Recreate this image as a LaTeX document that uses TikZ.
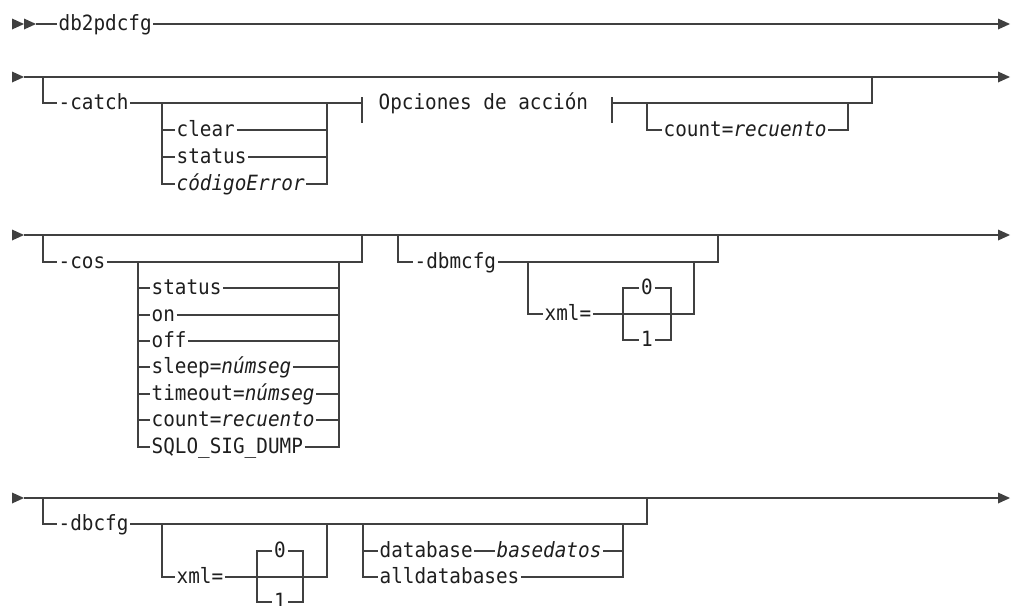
\documentclass[tikz,border=0pt]{standalone}
\usepackage{fontspec}
\newfontfamily\rrfont[FakeStretch=0.92]{DejaVu Sans Mono}
\definecolor{linec}{HTML}{404040}
\definecolor{textc}{HTML}{1E1E1E}
\tikzset{
  rr/.style={draw=linec, line width=1.4pt},
  kw/.style={inner xsep=1.5pt, inner ysep=0pt, text height=13pt, text depth=0pt, anchor=west,
    font=\rrfont\fontsize{21}{25}\selectfont, text=textc},
  kwc/.style={kw, anchor=center},
  tri/.style={fill=linec}
}
\newcommand\rrtri[2]{\fill[tri] (#1,#2-5.5) -- (#1+12,#2) -- (#1,#2+5.5) -- cycle;}
\begin{document}
\begin{tikzpicture}[x=1pt,y=-1pt]
\useasboundingbox (0,0) rectangle (1011,605);
\clip (0,0) rectangle (1011,605);
% ---------------- row 1
\rrtri{12}{24}\rrtri{24}{24}
\node[kw] (db) at (57,24) {db2pdcfg};
\draw[rr] (36,24) -- (db.west);
\draw[rr] (db.east) -- (1000,24);
\rrtri{998}{24}
% ---------------- row 2
\rrtri{12}{77}
\draw[rr] (24,77) -- (1000,77);
\rrtri{998}{77}
\node[kw] (catch) at (57,103) {-catch};
\draw[rr] (43,77) |- (catch.west);
\draw[rr] (catch.east) -- (362,103);
\node[kw] (clear) at (175,130) {clear};
\node[kw] (cstatus) at (175,157) {status};
\node[kw] (cerr) at (175,184) {\itshape códigoError};
\draw[rr] (162,103) |- (cerr.west);
\draw[rr] (162,130) -- (clear.west);
\draw[rr] (162,157) -- (cstatus.west);
\draw[rr] (clear.east) -- (327,130);
\draw[rr] (cstatus.east) -- (327,157);
\draw[rr] (cerr.east) -| (327,103);
\draw[rr] (362,97) -- (362,123);
\node[kw] (opc) at (377,103) {Opciones de acción};
\draw[rr] (612,97) -- (612,123);
\draw[rr] (612,103) -- (872,103) -- (872,77);
\node[kw] (ccount) at (662,130) {count=\textit{recuento}};
\draw[rr] (647,103) |- (ccount.west);
\draw[rr] (ccount.east) -| (848,103);
% ---------------- row 3
\rrtri{12}{235}
\draw[rr] (24,235) -- (1000,235);
\rrtri{998}{235}
\node[kw] (cos) at (57,262) {-cos};
\draw[rr] (43,235) |- (cos.west);
\draw[rr] (cos.east) -- (362,262) -- (362,235);
\node[kw] (s1) at (150,288) {status};
\node[kw] (s2) at (150,315) {on};
\node[kw] (s3) at (150,341) {off};
\node[kw] (s4) at (150,367) {sleep=\textit{númseg}};
\node[kw] (s5) at (150,394) {timeout=\textit{númseg}};
\node[kw] (s6) at (150,420) {count=\textit{recuento}};
\node[kw] (s7) at (150,447) {SQLO\_SIG\_DUMP};
\draw[rr] (138,262) |- (s7.west);
\foreach \n/\y in {s1/288,s2/315,s3/341,s4/367,s5/394,s6/420}{
  \draw[rr] (138,\y) -- (\n.west);
  \draw[rr] (\n.east) -- (339,\y);
}
\draw[rr] (s7.east) -| (339,262);
\node[kw] (dbm) at (413,262) {-dbmcfg};
\draw[rr] (398,235) |- (dbm.west);
\draw[rr] (dbm.east) -- (718,262) -- (718,235);
\node[kw] (xml1) at (543,314) {xml=};
\draw[rr] (528,262) |- (xml1.west);
\draw[rr] (xml1.east) -- (694,314) -- (694,262);
\node[kwc] (z1) at (647,288) {0};
\node[kwc] (o1) at (647,340) {1};
\draw[rr] (z1.west) -- (623,288) -- (623,340) -- (o1.west);
\draw[rr] (z1.east) -- (671,288) -- (671,340) -- (o1.east);
% ---------------- row 4
\rrtri{12}{498}
\draw[rr] (24,498) -- (1000,498);
\rrtri{998}{498}
\node[kw] (dbc) at (57,524) {-dbcfg};
\draw[rr] (43,498) |- (dbc.west);
\draw[rr] (dbc.east) -- (647,524) -- (647,498);
\node[kw] (xml2) at (175,577) {xml=};
\draw[rr] (162,524) |- (xml2.west);
\draw[rr] (xml2.east) -- (327,577) -- (327,524);
\node[kwc] (z2) at (280,551) {0};
\node[kwc] (o2) at (280,602) {1};
\draw[rr] (z2.west) -- (257,551) -- (257,602) -- (o2.west);
\draw[rr] (z2.east) -- (303,551) -- (303,602) -- (o2.east);
\node[kw] (dbase) at (378,551) {database};
\node[kw] (bdat) at (495,551) {\itshape basedatos};
\node[kw] (alld) at (378,577) {alldatabases};
\draw[rr] (363,524) |- (alld.west);
\draw[rr] (363,551) -- (dbase.west);
\draw[rr] (dbase.east) -- (bdat.west);
\draw[rr] (bdat.east) -- (623,551);
\draw[rr] (alld.east) -| (623,524);
\end{tikzpicture}
\end{document}
